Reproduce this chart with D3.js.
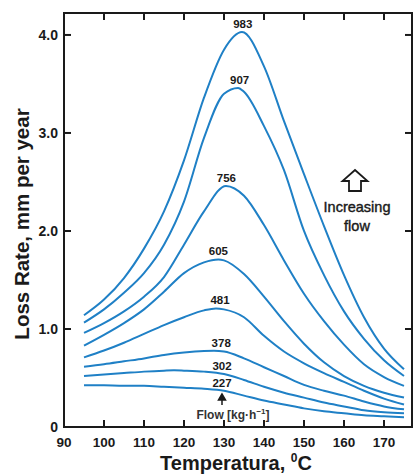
<!DOCTYPE html>
<html>
<head>
<meta charset="utf-8">
<script src="https://cdn.jsdelivr.net/npm/d3@7"></script>
<style>
  body { margin: 0; background: #fff; }
  svg { display: block; font-family: "Liberation Sans", Arial, sans-serif; }
</style>
</head>
<body>
<svg width="414" height="476"></svg>
<script>
// values
var temps = [95, 100, 105, 110, 115, 120, 125, 130, 135, 140, 145, 150, 155, 160, 165, 170, 175];
var flows = [983, 907, 756, 605, 481, 378, 302, 227];

var loss983 = [1.14, 1.30, 1.52, 1.82, 2.20, 2.72, 3.36, 3.85, 4.02, 3.68, 3.12, 2.58, 2.05, 1.55, 1.12, 0.80, 0.59];
var loss907 = [1.065, 1.20, 1.37, 1.57, 1.86, 2.30, 2.95, 3.40, 3.42, 3.07, 2.62, 2.00, 1.55, 1.18, 0.90, 0.68, 0.52];
var loss756 = [0.96, 1.06, 1.18, 1.33, 1.53, 1.86, 2.20, 2.45, 2.36, 2.06, 1.70, 1.36, 1.08, 0.84, 0.64, 0.51, 0.42];
var loss605 = [0.83, 0.94, 1.06, 1.20, 1.38, 1.57, 1.68, 1.70, 1.56, 1.33, 1.08, 0.85, 0.66, 0.52, 0.42, 0.35, 0.30];
var loss481 = [0.71, 0.78, 0.86, 0.95, 1.04, 1.12, 1.19, 1.20, 1.12, 0.93, 0.77, 0.65, 0.55, 0.46, 0.37, 0.29, 0.23];
var loss378 = [0.615, 0.64, 0.67, 0.70, 0.735, 0.76, 0.775, 0.77, 0.70, 0.61, 0.52, 0.43, 0.37, 0.32, 0.26, 0.21, 0.18];
var loss302 = [0.52, 0.535, 0.55, 0.565, 0.575, 0.575, 0.565, 0.54, 0.48, 0.41, 0.35, 0.30, 0.25, 0.21, 0.17, 0.15, 0.14];
var loss227 = [0.425, 0.425, 0.42, 0.42, 0.41, 0.40, 0.39, 0.37, 0.32, 0.27, 0.23, 0.19, 0.16, 0.14, 0.12, 0.11, 0.10];

// top of each curve (temperature, loss)
var peakTemp = [134.5, 133.5, 130.5, 128.6, 128, 127.5, 117.5, 97.5];
var peakLoss = [4.03, 3.46, 2.46, 1.71, 1.21, 0.777, 0.578, 0.426];
// where the flow numbers sit
var labelTemp = [134.7, 133.9, 130.6, 128.6, 129.0, 129.3, 129.5, 129.5];

var xTicks = [90, 100, 110, 120, 130, 140, 150, 160, 170];
var yTicks = [0, 1, 2, 3, 4];
var yTickLabels = ["0", "1.0", "2.0", "3.0", "4.0"];

var series = [loss983, loss907, loss756, loss605, loss481, loss378, loss302, loss227];

var svg = d3.select("svg");
var lineColor = "#1f80c6";
var ink = "#1a1a1a";

var x = d3.scaleLinear().domain([90, 177]).range([64, 412]);
var y = d3.scaleLinear().domain([0, 4.224]).range([427, 13]);

// curves
var line = d3.line()
    .x(function(d) { return x(d[0]); })
    .y(function(d) { return y(d[1]); })
    .curve(d3.curveMonotoneX);

var curveData = series.map(function(vals, i) {
    var pts = temps.map(function(t, j) { return [t, vals[j]]; })
        .filter(function(p) { return Math.abs(p[0] - peakTemp[i]) > 1.2; });
    pts.push([peakTemp[i], peakLoss[i]]);
    pts.sort(function(a, b) { return a[0] - b[0]; });
    return pts;
});

svg.append("g")
    .selectAll("path")
    .data(curveData)
    .enter().append("path")
    .attr("d", line)
    .attr("fill", "none")
    .attr("stroke", lineColor)
    .attr("stroke-width", 2);

// flow labels
function valueAt(pts, t) {
    for (var k = 0; k < pts.length - 1; k++) {
        if (t >= pts[k][0] && t <= pts[k + 1][0]) {
            var f = (t - pts[k][0]) / (pts[k + 1][0] - pts[k][0]);
            return pts[k][1] + f * (pts[k + 1][1] - pts[k][1]);
        }
    }
    return pts[pts.length - 1][1];
}

svg.append("g")
    .selectAll("text")
    .data(flows)
    .enter().append("text")
    .attr("x", function(d, i) { return x(labelTemp[i]); })
    .attr("y", function(d, i) {
        var v = Math.max(valueAt(curveData[i], labelTemp[i]), i < 5 ? peakLoss[i] : 0);
        return y(v) - 4;
    })
    .attr("text-anchor", "middle")
    .attr("font-size", 11.5)
    .attr("font-weight", "bold")
    .attr("fill", ink)
    .text(function(d) { return d; });

// frame with inward ticks
var frame = svg.append("g").attr("stroke", ink).attr("stroke-width", 2).attr("fill", "none");
frame.append("rect")
    .attr("x", x(90)).attr("y", y(4.224))
    .attr("width", x(177) - x(90)).attr("height", y(0) - y(4.224));

var tickLen = 7;
xTicks.slice(1).forEach(function(t) {
    frame.append("line").attr("x1", x(t)).attr("x2", x(t)).attr("y1", y(0)).attr("y2", y(0) - tickLen);
    frame.append("line").attr("x1", x(t)).attr("x2", x(t)).attr("y1", y(4.224)).attr("y2", y(4.224) + tickLen);
});
yTicks.slice(1).forEach(function(v) {
    frame.append("line").attr("x1", x(90)).attr("x2", x(90) + tickLen).attr("y1", y(v)).attr("y2", y(v));
    frame.append("line").attr("x1", x(177)).attr("x2", x(177) - tickLen).attr("y1", y(v)).attr("y2", y(v));
});

// tick labels
svg.append("g")
    .selectAll("text")
    .data(xTicks)
    .enter().append("text")
    .attr("x", function(d) { return x(d); })
    .attr("y", 447)
    .attr("text-anchor", "middle")
    .attr("font-size", 13.5)
    .attr("font-weight", "bold")
    .attr("fill", ink)
    .text(function(d) { return d; });

svg.append("g")
    .selectAll("text")
    .data(yTicks)
    .enter().append("text")
    .attr("x", 58)
    .attr("y", function(d) { return y(d) + 5; })
    .attr("text-anchor", "end")
    .attr("font-size", 14)
    .attr("font-weight", "bold")
    .attr("fill", ink)
    .text(function(d, i) { return yTickLabels[i]; });

// axis titles
svg.append("text")
    .attr("transform", "translate(29,224) rotate(-90)")
    .attr("text-anchor", "middle")
    .attr("font-size", 20.5)
    .attr("font-weight", "bold")
    .attr("fill", ink)
    .text("Loss Rate, mm per year");

var xt = svg.append("text")
    .attr("x", 236)
    .attr("y", 470)
    .attr("text-anchor", "middle")
    .attr("font-size", 20)
    .attr("font-weight", "bold")
    .attr("fill", ink);
xt.append("tspan").text("Temperatura, ");
xt.append("tspan").attr("font-size", 12).attr("dy", -8).text("0");
xt.append("tspan").attr("dy", 8).text("C");

// flow note with small arrow
var ax = x(129.5);
svg.append("path")
    .attr("d", "M" + ax + ",394 L" + (ax - 3.5) + ",400 L" + (ax + 3.5) + ",400 Z M" + ax + ",399 L" + ax + ",405")
    .attr("fill", ink)
    .attr("stroke", ink)
    .attr("stroke-width", 1.5);

var ft = svg.append("text")
    .attr("x", 233)
    .attr("y", 419)
    .attr("text-anchor", "middle")
    .attr("font-size", 12)
    .attr("font-weight", "bold")
    .attr("fill", "#333");
ft.append("tspan").text("Flow [kg\u00b7h");
ft.append("tspan").attr("font-size", 8).attr("dy", -5).text("\u22121");
ft.append("tspan").attr("dy", 5).text("]");

// increasing flow hint
var hx = 355;
svg.append("path")
    .attr("d", "M" + hx + ",170 L" + (hx + 12.5) + ",181 L" + (hx + 6) + ",181 L" + (hx + 6) + ",191 L" + (hx - 6) + ",191 L" + (hx - 6) + ",181 L" + (hx - 12.5) + ",181 Z")
    .attr("fill", "#fff")
    .attr("stroke", ink)
    .attr("stroke-width", 1.8);

[["Increasing", 212], ["flow", 231]].forEach(function(r) {
    svg.append("text")
        .attr("x", 357).attr("y", r[1])
        .attr("text-anchor", "middle")
        .attr("font-size", 14.5)
        .attr("fill", ink)
        .attr("stroke", ink)
        .attr("stroke-width", 0.4)
        .text(r[0]);
});
</script>
</body>
</html>
